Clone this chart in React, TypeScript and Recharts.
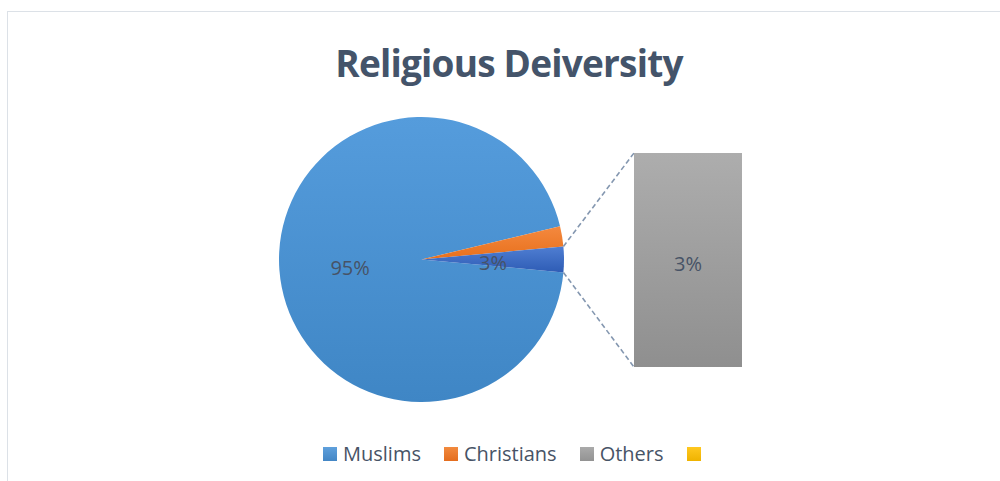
import React from 'react';
import { PieChart, Pie, Cell, BarChart, Bar, XAxis, YAxis, LabelList } from 'recharts';

const title = 'Religious Deiversity';
const categories = ['Muslims', 'Christians', 'Others'];
const shares = [94.8, 2.3, 2.9];
const secondaryCategories = ['Others'];
const secondaryShares = [2.9];
const legendLabels = ['Muslims', 'Christians', 'Others', ''];

const pieData = categories.map((name, i) => ({ name, value: shares[i] }));
const barData = secondaryCategories.map((name, i) => ({ name, value: secondaryShares[i] }));

const FONT = '"Open Sans", "Liberation Sans", sans-serif';
const TEXT = '#475366';
const CX = 421.5;
const CY = 259.5;
const R = 142.5;
const START = 354.8;
const END = START - 360;
const BAR_BOX = { left: 634, top: 153, width: 108, height: 214 };

const sliceFills = ['url(#gMus)', 'url(#gChr)', 'url(#gOth)'];
const legendGrads = [
  ['#5fa0dc', '#4386c5'],
  ['#f28a3e', '#e46d1e'],
  ['#aaaaaa', '#939393'],
  ['#ffc820', '#efb300'],
];

const total = shares.reduce((a, b) => a + b, 0);
const RAD = Math.PI / 180;

const renderLabel = (props: any) => {
  const { index, midAngle, percent } = props;
  if (index === 1) return null;
  const rho = R * 0.502;
  const x = CX + rho * Math.cos(-midAngle * RAD);
  const y = CY + rho * Math.sin(-midAngle * RAD) + 3;
  return (
    <text x={x} y={y} fill={TEXT} fontSize={20} fontFamily={FONT} textAnchor="middle" dominantBaseline="central">
      {`${Math.round(percent * 100)}%`}
    </text>
  );
};

export default function App() {
  // connector geometry derived from the "Others" slice in the main pie
  const othersIdx = categories.indexOf('Others');
  const before = shares.slice(0, othersIdx + 1).reduce((a, b) => a + b, 0);
  const aTop = START - ((before - shares[othersIdx]) / total) * 360;
  const aBot = START - (before / total) * 360;
  const p1 = { x: CX + R * Math.cos(aTop * RAD), y: CY - R * Math.sin(aTop * RAD) };
  const p2 = { x: CX + R * Math.cos(aBot * RAD), y: CY - R * Math.sin(aBot * RAD) };

  return (
    <div style={{ position: 'absolute', left: 0, top: 0, width: 1000, height: 481, overflow: 'hidden', background: '#fff' }}>
      <div style={{ position: 'absolute', left: 7, top: 11, width: 1200, height: 800, borderTop: '1.5px solid #dce1e7', borderLeft: '1.5px solid #dce1e7' }} />
      <div style={{ position: 'absolute', left: 0, top: 41, width: 1018, textAlign: 'center', fontFamily: FONT, fontWeight: 700, fontSize: 37, letterSpacing: -0.8, color: '#44546a', lineHeight: '44px' }}>
        {title}
      </div>
      <div style={{ position: 'absolute', left: 0, top: 0 }}>
        <PieChart width={1000} height={481} margin={{ top: 0, right: 0, bottom: 0, left: 0 }}>
          <defs>
            <linearGradient id="gMus" x1="0" y1="0" x2="0" y2="1">
              <stop offset="0%" stopColor="#559cdc" />
              <stop offset="100%" stopColor="#3f86c5" />
            </linearGradient>
            <linearGradient id="gChr" x1="0" y1="0" x2="0" y2="1">
              <stop offset="0%" stopColor="#f4893f" />
              <stop offset="100%" stopColor="#e8701c" />
            </linearGradient>
            <linearGradient id="gOth" x1="0" y1="0" x2="0" y2="1">
              <stop offset="0%" stopColor="#4f7ed2" />
              <stop offset="100%" stopColor="#2e5cb5" />
            </linearGradient>
          </defs>
          <Pie
            data={pieData}
            dataKey="value"
            nameKey="name"
            cx={CX}
            cy={CY}
            outerRadius={R}
            startAngle={START}
            endAngle={END}
            stroke="none"
            labelLine={false}
            label={renderLabel}
            isAnimationActive={false}
          >
            {pieData.map((d, i) => (
              <Cell key={d.name} fill={sliceFills[i]} />
            ))}
          </Pie>
        </PieChart>
      </div>
      <svg width={1000} height={481} style={{ position: 'absolute', left: 0, top: 0, pointerEvents: 'none' }}>
        <line x1={p1.x} y1={p1.y} x2={BAR_BOX.left} y2={BAR_BOX.top} stroke="#8497b0" strokeWidth={1.6} strokeDasharray="5 3" />
        <line x1={p2.x} y1={p2.y} x2={BAR_BOX.left} y2={BAR_BOX.top + BAR_BOX.height} stroke="#8497b0" strokeWidth={1.6} strokeDasharray="5 3" />
      </svg>
      <div style={{ position: 'absolute', left: BAR_BOX.left, top: BAR_BOX.top }}>
        <BarChart width={BAR_BOX.width} height={BAR_BOX.height} data={barData} margin={{ top: 0, right: 0, bottom: 0, left: 0 }} barCategoryGap={0}>
          <defs>
            <linearGradient id="gBar" x1="0" y1="0" x2="0" y2="1">
              <stop offset="0%" stopColor="#adadad" />
              <stop offset="100%" stopColor="#8f8f8f" />
            </linearGradient>
          </defs>
          <XAxis dataKey="name" hide />
          <YAxis hide domain={[0, 'dataMax']} />
          <Bar dataKey="value" fill="url(#gBar)" isAnimationActive={false}>
            <LabelList
              dataKey="value"
              position="center"
              content={(p: any) => (
                <text x={p.x + p.width / 2} y={p.y + p.height / 2 + 3} fill={TEXT} fontSize={20} fontFamily={FONT} textAnchor="middle" dominantBaseline="central">
                  {`${Math.round((p.value / total) * 100)}%`}
                </text>
              )}
            />
          </Bar>
        </BarChart>
      </div>
      <div style={{ position: 'absolute', left: 323, top: 441, display: 'flex', alignItems: 'center', fontFamily: FONT, fontSize: 20, color: TEXT, lineHeight: '26px' }}>
        {legendLabels.map((lab, i) => (
          <div key={i} style={{ display: 'flex', alignItems: 'center', marginRight: 23 }}>
            <div style={{ width: 14, height: 14, background: `linear-gradient(${legendGrads[i][0]}, ${legendGrads[i][1]})`, marginRight: lab ? 6 : 0 }} />
            {lab ? <span>{lab}</span> : null}
          </div>
        ))}
      </div>
    </div>
  );
}
